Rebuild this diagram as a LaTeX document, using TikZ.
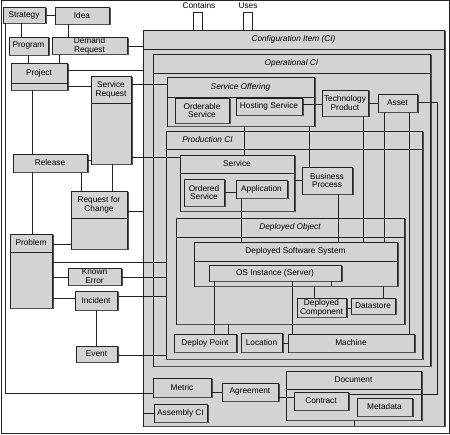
\documentclass[tikz,border=0pt]{standalone}
\usepackage{fontspec}
\setmainfont{Liberation Sans}
\definecolor{boxgray}{RGB}{211,211,211}
\definecolor{ink}{RGB}{35,35,35}
\tikzset{
 lnst/.style={draw=ink, line width=0.75pt},
 shadst/.style={draw=ink!80, line width=0.8pt},
 boxst/.style={lnst, fill=boxgray, inner sep=0pt, outer sep=0pt, align=center, font=\fontsize{8.3}{8.8}\selectfont},
 lblst/.style={inner sep=0pt, align=center, font=\fontsize{8.3}{8.8}\selectfont},
 tabst/.style={fill=white}
}
\newcommand\bx[7][]{\node[boxst,#1,minimum width={(#5-#3)*1pt},minimum height={(#6-#4)*1pt}] (#2) at ({(#3+#5)/2},{(#4+#6)/2}) {#7};}
\newcommand\sbx[6]{\bx{#1}{#2}{#3}{#4}{#5}{#6}\draw[shadst] ([xshift=0.9pt,yshift=-1pt]#1.north east) -- ([xshift=0.9pt,yshift=-0.9pt]#1.south east) -- ([xshift=1pt,yshift=-0.9pt]#1.south west);}
\newcommand\cbx[7]{\sbx{#1}{#2}{#3}{#4}{#5}{}\draw[lnst] (#1.west |- 0,#6) -- (#1.east |- 0,#6);\node[lblst] (#1-t) at ({(#2+#4)/2},{(#3+#6)/2}) {#7};}
\newcommand\hc[3]{\draw[lnst] (#1.east |- 0,#3) -- (#2.west |- 0,#3);}
\newcommand\vc[3]{\draw[lnst] (#1.south -| #3,0) -- (#2.north -| #3,0);}
\begin{document}
\begin{tikzpicture}[x=1pt,y=-1pt]
\useasboundingbox (0,0) rectangle (450,435);
\draw[lnst, line width=1pt] (1,1) rectangle (449,434);

% left column
\sbx{strategy}{3}{7}{45}{23}{Strategy}
\sbx{idea}{55}{7}{109}{24}{Idea}
\sbx{program}{9}{37}{48}{55}{Program}
\sbx{demand}{52}{37}{127}{54}{Demand\\Request}
\cbx{project}{11}{63}{67}{90}{83}{Project}
\cbx{sreq}{91}{76}{131}{164}{103}{Service\\Request}
\sbx{release}{13}{154}{87}{172}{Release}
\cbx{rfc}{71}{191}{127}{249}{218}{Request for\\Change}
\cbx{problem}{10}{234}{52}{308}{252}{Problem}
\sbx{kerr}{68}{268}{121}{285}{Known\\Error}
\sbx{incident}{75}{291}{117}{310}{Incident}
\sbx{event}{76}{346}{117}{362}{Event}

% tabs
\node[lblst] (containslbl) at (199,6) {Contains};
\node[lblst] (useslbl) at (248,6) {Uses};
\bx[tabst]{contains}{193}{12}{202}{30}{}
\bx[tabst]{uses}{243}{12}{252}{30}{}

% containers
\cbx{ci}{143}{30}{444}{426}{49}{\itshape Configuration Item (CI)}
\cbx{opci}{153}{54}{430}{366}{73}{\itshape Operational CI}
\cbx{so}{167}{77}{314}{126}{97}{\itshape Service Offering}
\sbx{orderable}{175}{98}{229}{123}{Orderable\\Service}
\sbx{hosting}{236}{98}{302}{115}{Hosting Service}
\sbx{tp}{322}{90}{368}{116}{Technology\\Product}
\sbx{asset}{378}{94}{417}{112}{Asset}
\sbx{prodci}{166}{131}{422}{359}{}
\draw[lnst] (prodci.west |- 0,149) -- (prodci.east |- 0,149);
\node[lblst] (prodci-t) at (207.5,140) {\itshape Production CI};
\cbx{service}{180}{155}{294}{211}{173}{Service}
\sbx{ordserv}{184}{179}{224}{206}{Ordered\\Service}
\sbx{app}{236}{180}{287}{198}{Application}
\sbx{bp}{302}{167}{352}{194}{Business\\Process}
\cbx{dobj}{176}{218}{404}{324}{237}{\itshape Deployed Object}
\cbx{dss}{194}{242}{397}{286}{261}{Deployed Software System}
\sbx{os}{209}{265}{341}{281}{OS Instance (Server)}
\sbx{dcomp}{297}{298}{346}{317}{Deployed\\Component}
\sbx{dstore}{351}{298}{395}{314}{Datastore}
\sbx{dpoint}{174}{334}{236}{352}{Deploy Point}
\sbx{loc}{241}{333}{282}{352}{Location}
\sbx{machine}{288}{334}{414}{352}{Machine}
\sbx{metric}{153}{378}{211}{397}{Metric}
\sbx{asm}{154}{404}{207}{422}{Assembly CI}
\sbx{agree}{222}{383}{278}{401}{Agreement}
\cbx{doc}{286}{371}{421}{420}{389}{Document}
\sbx{contract}{294}{392}{348}{410}{Contract}
\sbx{meta}{357}{398}{412}{416}{Metadata}

% connectors left side
\hc{strategy}{idea}{15.5}
\vc{strategy}{program}{21}
\vc{idea}{demand}{68}
\vc{program}{project}{28}
\vc{demand}{project}{59}
\hc{demand}{ci}{46}
\hc{project}{ci}{70}
\hc{project}{sreq}{86.5}
\vc{project}{release}{32}
\hc{sreq}{so}{84}
\hc{release}{sreq}{160}
\hc{sreq}{service}{157.5}
\vc{release}{rfc}{81}
\vc{sreq}{rfc}{112}
\hc{rfc}{ci}{211}
\vc{release}{problem}{32}
\draw[lnst] (rfc.west |- 0,244) -- (problem.east |- 0,244);
\hc{problem}{prodci}{262}
\hc{problem}{kerr}{277}
\hc{kerr}{prodci}{277}
\hc{problem}{incident}{298}
\hc{incident}{prodci}{296}
\vc{incident}{event}{96}
\hc{event}{prodci}{355}
\draw[lnst] (strategy.south -| 5,0) |- (metric.west |- 0,393);
\hc{metric}{agree}{392}
\draw[lnst] (ci.west |- 0,413) -- (asm.west |- 0,413);
\hc{agree}{contract}{397}
\draw[lnst] (doc.south -| 354,0) -- (ci.south -| 354,0);
\coordinate (assetbend) at (437.5,394);
\draw[lnst] (asset.east |- 0,102) -| (assetbend) -- (contract.east |- 0,394);

% connectors inside
\hc{hosting}{tp}{104}
\hc{tp}{asset}{103}
\vc{so}{service}{244}
\vc{so}{bp}{309}
\hc{ordserv}{app}{192}
\hc{service}{bp}{180}
\vc{app}{dss}{241}
\vc{bp}{dss}{338}
\vc{tp}{dss}{363}
\vc{asset}{dss}{384}
\vc{asset}{machine}{409}
\vc{os}{dpoint}{214}
\vc{dobj}{dpoint}{228}
\vc{os}{machine}{292}
\draw[lnst] (os.south -| 331,0) -- (dss.south -| 331,0);
\vc{dss}{dcomp}{314}
\vc{dss}{dstore}{383}
\hc{dcomp}{dstore}{308}
\hc{loc}{machine}{343}
\end{tikzpicture}
\end{document}
